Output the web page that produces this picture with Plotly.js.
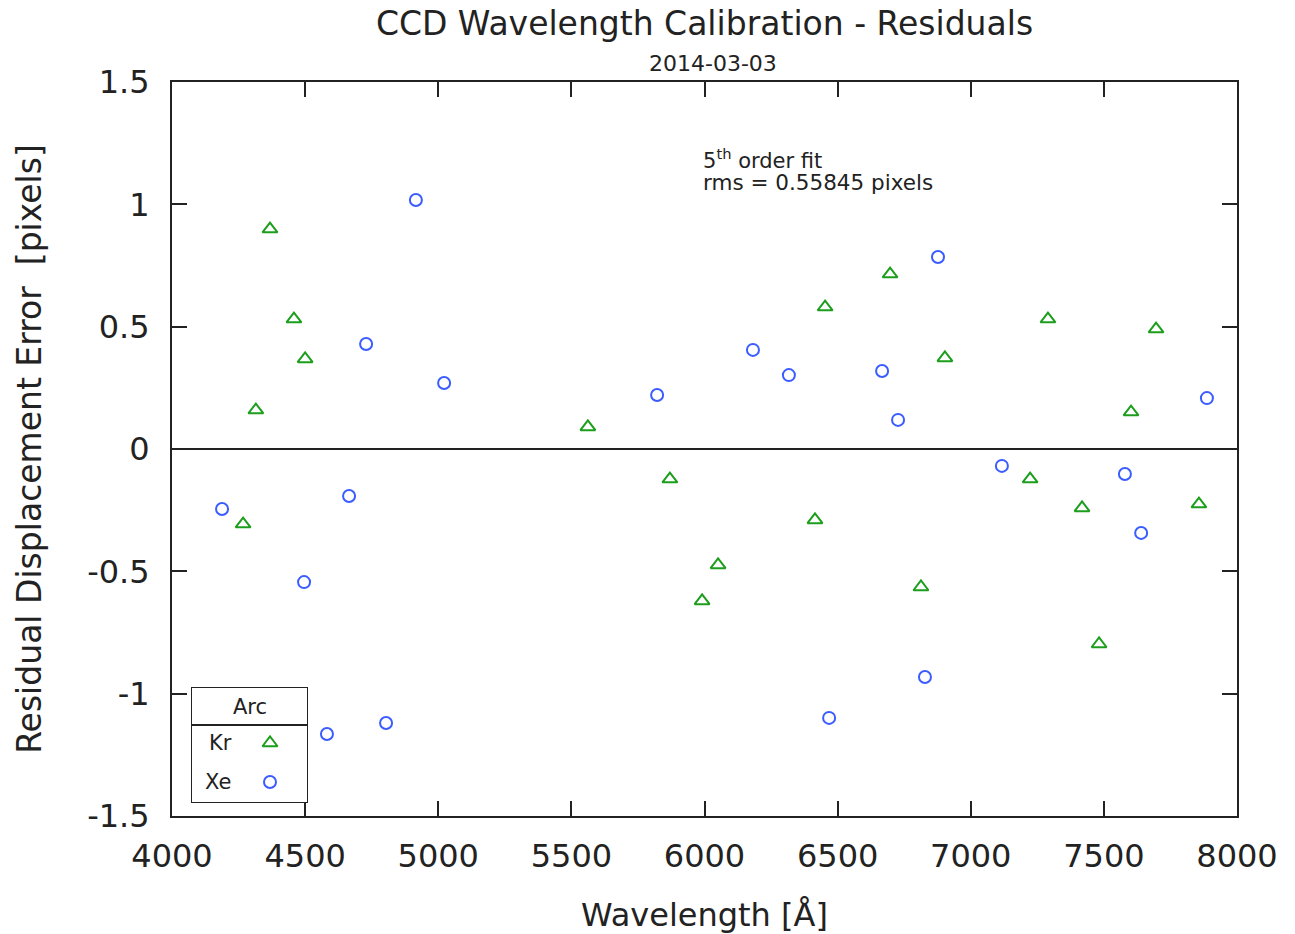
<!DOCTYPE html>
<html>
<head>
<meta charset="utf-8">
<script src="https://cdn.plot.ly/plotly-3.0.1.min.js"></script>
<style>
html, body { margin: 0; padding: 0; background: #ffffff; }
#chart { width: 1295px; height: 934px; }
</style>
</head>
<body>
<div id="chart"></div>
<script>
// ---- data ----
var krWavelength = [4267, 4315, 4368, 4458, 4500, 5562, 5870, 5991, 6051, 6415, 6453, 6697, 6813, 6903, 7223, 7290, 7418, 7482, 7602, 7696, 7857];
var krResidual   = [-0.307, 0.159, 0.899, 0.531, 0.368, 0.090, -0.123, -0.621, -0.474, -0.290, 0.580, 0.715, -0.564, 0.372, -0.123, 0.531, -0.241, -0.797, 0.151, 0.490, -0.225];

var xeWavelength = [4188, 4496, 4582, 4665, 4729, 4804, 4916, 5022, 5822, 6182, 6317, 6468, 6667, 6727, 6828, 6877, 7117, 7579, 7640, 7887];
var xeResidual   = [-0.245, -0.544, -1.165, -0.192, 0.429, -1.120, 1.018, 0.270, 0.221, 0.405, 0.302, -1.099, 0.319, 0.119, -0.932, 0.785, -0.069, -0.102, -0.343, 0.208];

var xTickValues = [4000, 4500, 5000, 5500, 6000, 6500, 7000, 7500, 8000];
var xTickLabels = ["4000", "4500", "5000", "5500", "6000", "6500", "7000", "7500", "8000"];
var yTickValues = [-1.5, -1, -0.5, 0, 0.5, 1, 1.5];
var yTickLabels = ["-1.5", "-1", "-0.5", "0", "0.5", "1", "1.5"];

var seriesNames = ["Kr", "Xe"];
var legendTitle = "Arc";
var chartTitle = "CCD Wavelength Calibration - Residuals";
var chartSubtitle = "2014-03-03";
var fitNoteLine1 = "5<sup>th</sup> order fit";
var fitNoteLine2 = "rms = 0.55845 pixels";

// ---- styles ----
var FONT = "DejaVu Sans, Verdana, sans-serif";
var KR_COLOR = "#1c9e1c";
var XE_COLOR = "#3b5cff";
var INK = "#222222";

// plot-area pixel geometry
var W = 1295, H = 934;
var L = 172, R = 1237, T = 82, B = 816;
var pw = R - L, ph = B - T;
// legend box in pixels
var LB = {x0: 191, x1: 308, y0: 687, y1: 803, sep: 725};

function px2paperX(p) { return (p - L) / pw; }
function px2paperY(p) { return (B - p) / ph; }

var traces = [
  {
    type: "scatter", mode: "markers", name: seriesNames[0],
    x: krWavelength, y: krResidual,
    marker: {symbol: "triangle-up-open", size: 13, color: KR_COLOR, line: {width: 2, color: KR_COLOR}},
    showlegend: false, cliponaxis: false
  },
  {
    type: "scatter", mode: "markers", name: seriesNames[1],
    x: xeWavelength, y: xeResidual,
    marker: {symbol: "circle-open", size: 12, color: XE_COLOR, line: {width: 2, color: XE_COLOR}},
    showlegend: false, cliponaxis: false
  },
  // legend keys drawn on a helper axis whose units are pixels
  {
    type: "scatter", mode: "markers", xaxis: "x2", yaxis: "y2", hoverinfo: "skip",
    x: [270], y: [743], showlegend: false,
    marker: {symbol: "triangle-up-open", size: 13, color: KR_COLOR, line: {width: 2, color: KR_COLOR}}
  },
  {
    type: "scatter", mode: "markers", xaxis: "x2", yaxis: "y2", hoverinfo: "skip",
    x: [270], y: [782], showlegend: false,
    marker: {symbol: "circle-open", size: 12, color: XE_COLOR, line: {width: 2, color: XE_COLOR}}
  }
];

var layout = {
  width: W, height: H,
  paper_bgcolor: "#ffffff", plot_bgcolor: "#ffffff",
  font: {family: FONT, color: INK, size: 32},
  margin: {l: L, r: W - R, t: T, b: H - B, pad: 0},
  showlegend: false,
  title: {
    text: chartTitle,
    font: {family: FONT, size: 33, color: INK},
    x: 0.5, xref: "paper", xanchor: "center",
    y: 1 - 23 / H, yref: "container", yanchor: "middle"
  },
  xaxis: {
    range: [4000, 8000], autorange: false,
    tickmode: "array", tickvals: xTickValues, ticktext: xTickLabels,
    ticks: "inside", ticklen: 15, tickwidth: 2, tickcolor: INK,
    showline: true, linewidth: 2, linecolor: INK, mirror: "ticks",
    showgrid: false, zeroline: false,
    tickfont: {family: FONT, size: 32, color: INK},
    ticklabelstandoff: 11,
    title: {text: "Wavelength [Å]", font: {family: FONT, size: 32, color: INK}, standoff: 30},
    automargin: false
  },
  yaxis: {
    range: [-1.5, 1.5], autorange: false,
    tickmode: "array", tickvals: yTickValues, ticktext: yTickLabels,
    ticks: "inside", ticklen: 15, tickwidth: 2, tickcolor: INK,
    showline: true, linewidth: 2, linecolor: INK, mirror: "ticks",
    showgrid: false,
    zeroline: true, zerolinecolor: INK, zerolinewidth: 2,
    tickfont: {family: FONT, size: 32, color: INK},
    ticklabelstandoff: 14,
    title: {text: "Residual Displacement Error \u00a0[pixels]", font: {family: FONT, size: 33, color: INK}, standoff: 36},
    automargin: false
  },
  xaxis2: {
    domain: [px2paperX(LB.x0), px2paperX(LB.x1)], range: [LB.x0, LB.x1], autorange: false,
    anchor: "y2", visible: false, fixedrange: true
  },
  yaxis2: {
    domain: [px2paperY(LB.y1), px2paperY(LB.y0)], range: [LB.y1, LB.y0], autorange: false,
    anchor: "x2", visible: false, fixedrange: true
  },
  shapes: [
    {type: "rect", xref: "x2", yref: "y2", x0: LB.x0, x1: LB.x1, y0: LB.y0, y1: LB.y1,
     line: {color: INK, width: 2}, fillcolor: "#ffffff", layer: "below"},
    {type: "line", xref: "x2", yref: "y2", x0: LB.x0, x1: LB.x1, y0: LB.sep, y1: LB.sep,
     line: {color: INK, width: 2}}
  ],
  annotations: [
    {text: chartSubtitle, xref: "paper", yref: "paper", x: px2paperX(712.5), y: px2paperY(63.5),
     xanchor: "center", yanchor: "middle", showarrow: false,
     font: {family: FONT, size: 22, color: INK}},
    {text: fitNoteLine1, xref: "paper", yref: "paper", x: px2paperX(701), y: px2paperY(159),
     xanchor: "left", yanchor: "middle", align: "left", showarrow: false,
     font: {family: FONT, size: 21, color: INK}},
    {text: fitNoteLine2, xref: "paper", yref: "paper", x: px2paperX(701), y: px2paperY(182),
     xanchor: "left", yanchor: "middle", align: "left", showarrow: false,
     font: {family: FONT, size: 21.5, color: INK}},
    {text: legendTitle, xref: "x2", yref: "y2", x: 250, y: 707, xanchor: "center", yanchor: "middle",
     showarrow: false, font: {family: FONT, size: 21, color: INK}},
    {text: seriesNames[0], xref: "x2", yref: "y2", x: 220, y: 743, xanchor: "center", yanchor: "middle",
     showarrow: false, font: {family: FONT, size: 21, color: INK}},
    {text: seriesNames[1], xref: "x2", yref: "y2", x: 218, y: 782, xanchor: "center", yanchor: "middle",
     showarrow: false, font: {family: FONT, size: 21, color: INK}}
  ]
};

Plotly.newPlot("chart", traces, layout, {staticPlot: true, displayModeBar: false});
</script>
</body>
</html>
